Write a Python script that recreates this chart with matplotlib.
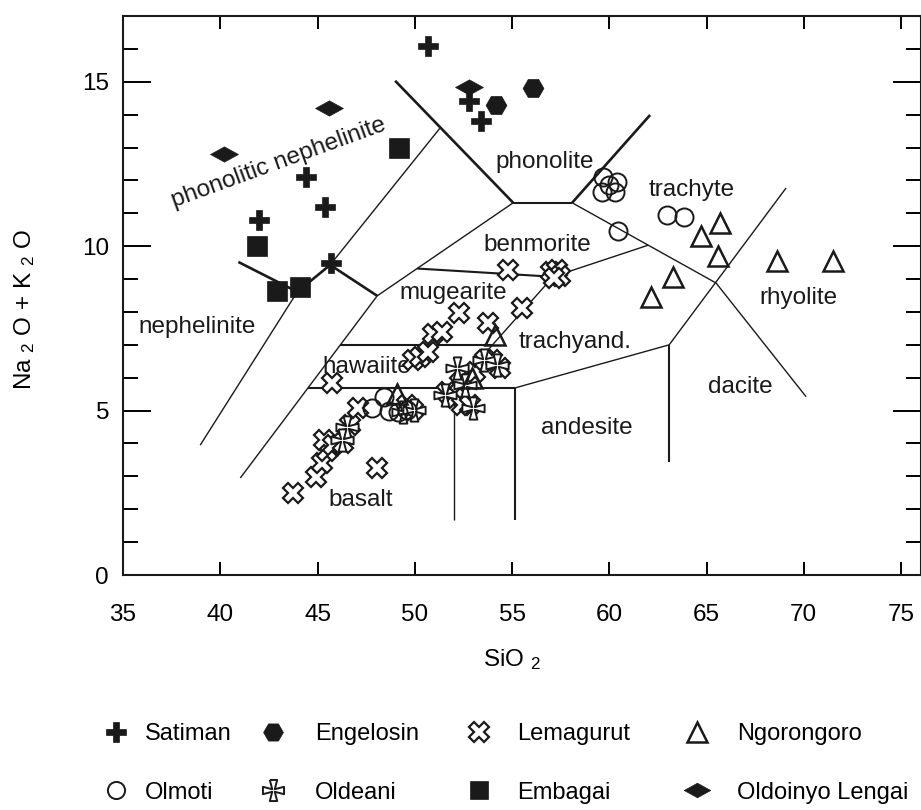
import matplotlib
matplotlib.use("Agg")
import matplotlib.pyplot as plt
from matplotlib.lines import Line2D

plt.rcParams["font.family"] = ["Liberation Sans", "DejaVu Sans"]
plt.rcParams["mathtext.fontset"] = "custom"
plt.rcParams["mathtext.rm"] = "Liberation Sans"
plt.rcParams["mathtext.it"] = "Liberation Sans"

# --- sample data (SiO2, Na2O+K2O) ---
satiman_x = [50.7, 52.8, 53.4, 44.4, 45.4, 42.0, 45.7]
satiman_y = [16.1, 14.4, 13.8, 12.1, 11.2, 10.8, 9.5]

engelosin_x = [56.1, 54.2]
engelosin_y = [14.8, 14.3]

lengai_x = [40.2, 45.6, 52.8]
lengai_y = [12.8, 14.2, 14.85]

embagai_x = [49.2, 41.9, 42.9, 44.1]
embagai_y = [13.0, 10.0, 8.65, 8.75]

olmoti_x = [59.7, 60.4, 59.6, 60.3, 60.0, 60.45, 62.97, 63.85,
            47.8, 48.4, 48.7, 49.15, 49.6]
olmoti_y = [12.1, 11.95, 11.65, 11.65, 11.85, 10.45, 10.95, 10.9,
            5.08, 5.42, 4.99, 4.96, 5.02]

ngoro_x = [65.7, 64.7, 65.6, 68.6, 71.5, 63.3, 62.15, 54.1, 49.1, 52.95]
ngoro_y = [10.7, 10.3, 9.7, 9.55, 9.55, 9.07, 8.46, 7.3, 5.5, 6.0]

lemag_x = [43.75, 44.93, 45.24, 45.5, 45.35, 45.81, 46.32, 46.68, 47.09, 48.07,
           45.76, 49.92, 50.28, 50.69, 50.95, 52.28, 51.41, 53.77, 55.52, 54.8,
           57.01, 57.32, 57.47, 57.17, 51.67, 52.08, 52.44, 52.85, 52.33, 53.11,
           53.62, 53.98, 54.39, 49.61, 49.92]
lemag_y = [2.49, 2.98, 3.41, 3.77, 4.11, 3.95, 4.02, 4.56, 5.08, 3.26,
           5.84, 6.54, 6.63, 6.78, 7.33, 7.97, 7.39, 7.67, 8.12, 9.28,
           9.22, 9.28, 9.1, 9.04, 5.57, 5.38, 5.17, 5.17, 5.84, 6.18,
           6.54, 6.54, 6.3, 5.17, 5.02]

oldeani_x = [46.53, 46.27, 49.41, 49.97, 52.18, 53.57, 54.24, 51.56, 53.0, 52.59]
oldeani_y = [4.5, 4.11, 4.96, 5.02, 6.3, 6.54, 6.39, 5.48, 5.08, 5.78]

# --- classification field boundaries ---
thick_lines = [
    [(40.93, 9.52), (43.96, 8.61), (45.65, 9.43), (48.07, 8.49)],
    [(48.99, 15.03), (55.06, 11.32)],
    [(58.09, 11.32), (62.10, 13.99)],
]
medium_lines = [
    [(50.13, 9.32), (57.11, 9.07)],
    [(46.18, 7.0), (53.98, 7.0)],
    [(44.5, 5.69), (55.16, 5.69)],
    [(55.06, 11.32), (58.09, 11.32)],
    [(55.16, 5.69), (55.16, 1.67)],
    [(63.08, 7.0), (63.08, 3.44)],
]
thin_lines = [
    [(51.31, 13.6), (45.65, 9.43)],
    [(43.96, 8.61), (38.97, 3.95)],
    [(41.03, 2.95), (48.07, 8.49), (55.06, 11.32)],
    [(58.09, 11.32), (65.49, 8.88), (70.12, 5.42)],
    [(63.08, 7.0), (69.09, 11.77)],
    [(57.11, 9.07), (62.0, 10.03)],
    [(57.11, 9.07), (52.03, 5.69)],
    [(55.16, 5.69), (63.08, 7.0)],
    [(52.03, 5.69), (52.03, 1.67)],
]

field_names = ["nephelinite", "basalt", "hawaiite", "mugearite", "benmorite",
               "phonolite", "trachyte", "trachyand.", "andesite", "dacite",
               "rhyolite"]
field_x = [38.82, 47.2, 47.55, 51.98, 56.29, 56.7, 64.26, 58.25, 58.86, 66.73, 69.71]
field_y = [7.55, 2.28, 6.33, 8.58, 10.04, 12.56, 11.71, 7.09, 4.47, 5.72, 8.43]

INK = "#1a1a1a"
FS = 17.5
diamond = [(-1, 0), (0, 0.55), (1, 0), (0, -0.55), (-1, 0)]
cross = [(-0.35, 1), (0.35, 1), (0.12, 0.12), (1, 0.35), (1, -0.35), (0.12, -0.12),
         (0.35, -1), (-0.35, -1), (-0.12, -0.12), (-1, -0.35), (-1, 0.35),
         (-0.12, 0.12), (-0.35, 1)]

fig = plt.figure(figsize=(9.21, 8.10), dpi=100)
ax = fig.add_axes([123 / 921, 1 - 575 / 810, (920.5 - 123) / 921, (575 - 16) / 810])

for seg in thick_lines:
    xs, ys = zip(*seg)
    ax.plot(xs, ys, color=INK, lw=1.9, solid_capstyle="butt", zorder=2)
for seg in medium_lines:
    xs, ys = zip(*seg)
    ax.plot(xs, ys, color=INK, lw=1.5, solid_capstyle="butt", zorder=2)
for seg in thin_lines:
    xs, ys = zip(*seg)
    ax.plot(xs, ys, color=INK, lw=1.0, solid_capstyle="butt", zorder=2)

for name, fx, fy in zip(field_names, field_x, field_y):
    ax.text(fx, fy, name, fontsize=FS, color=INK, ha="center", va="center", zorder=1)
ax.text(42.98, 12.53, "phonolitic nephelinite", fontsize=FS, color=INK,
        ha="center", va="center", rotation=20, rotation_mode="anchor", zorder=1)

styles = {
    "Satiman": dict(marker="P", ms=15, mfc=INK, mec=INK, mew=0.5),
    "Engelosin": dict(marker="H", ms=15, mfc=INK, mec=INK, mew=0.5),
    "Lemagurut": dict(marker="X", ms=15, mfc="white", mec=INK, mew=1.6),
    "Ngorongoro": dict(marker="^", ms=15, mfc="none", mec=INK, mew=1.8),
    "Olmoti": dict(marker="o", ms=13, mfc="none", mec=INK, mew=1.4),
    "Oldeani": dict(marker=cross, ms=16, mfc="white", mec=INK, mew=1.4),
    "Embagai": dict(marker="s", ms=14, mfc=INK, mec=INK, mew=0.5),
    "Oldoinyo Lengai": dict(marker=diamond, ms=20, mfc=INK, mec=INK, mew=0.5),
}
series = [
    ("Lemagurut", lemag_x, lemag_y),
    ("Oldeani", oldeani_x, oldeani_y),
    ("Olmoti", olmoti_x, olmoti_y),
    ("Ngorongoro", ngoro_x, ngoro_y),
    ("Embagai", embagai_x, embagai_y),
    ("Oldoinyo Lengai", lengai_x, lengai_y),
    ("Engelosin", engelosin_x, engelosin_y),
    ("Satiman", satiman_x, satiman_y),
]
for name, xs, ys in series:
    ax.plot(xs, ys, ls="none", zorder=3, **styles[name])

ax.set_xlim(35, 76)
ax.set_ylim(0, 17)
ax.set_xticks(range(35, 80, 5))
ax.set_xticks([50], minor=True)
ax.set_yticks([0, 5, 10, 15])
ax.set_yticks(range(0, 17), minor=True)
ax.tick_params(axis="x", which="major", direction="in", length=9.5, width=1.4,
               top=True, labelsize=FS, pad=21)
ax.tick_params(axis="x", which="minor", direction="in", length=20, width=1.4, top=True)
ax.tick_params(axis="y", which="major", direction="in", length=20, width=1.4,
               right=True, labelsize=FS, pad=10)
ax.tick_params(axis="y", which="minor", direction="in", length=10.5, width=1.4, right=True)
for sp in ax.spines.values():
    sp.set_linewidth(1.5)
    sp.set_color(INK)

ax.set_xlabel("SiO $_2$", fontsize=FS)
ax.xaxis.set_label_coords((512 - 123) / 797.5, -(660 - 575) / 559)
ax.xaxis.label.set_va("center")
ax.set_ylabel("Na $_2$ O + K $_2$ O", fontsize=FS)
ax.yaxis.set_label_coords(-(123 - 25) / 797.5, (575 - 310) / 559)
ax.yaxis.label.set_va("center")

# legend: four two-row columns placed like the original
legend_cols = [
    (["Satiman", "Olmoti"], 104, 0.75),
    (["Engelosin", "Oldeani"], 261, 1.3),
    (["Lemagurut", "Embagai"], 467, 1.12),
    (["Ngorongoro", "Oldoinyo Lengai"], 685, 1.2),
]
for names, left_px, tpad in legend_cols:
    handles = []
    for name in names:
        st = dict(styles[name])
        st["ms"] = st["ms"] * 0.95
        handles.append(Line2D([], [], ls="none", **st))
    fig.legend(handles, names, loc="upper left",
               bbox_to_anchor=(left_px / 921, 1 - 723 / 810),
               frameon=False, fontsize=17, handlelength=1.0,
               handletextpad=tpad, labelspacing=1.55,
               borderpad=0, borderaxespad=0)

fig.savefig("out.png", dpi=100)
